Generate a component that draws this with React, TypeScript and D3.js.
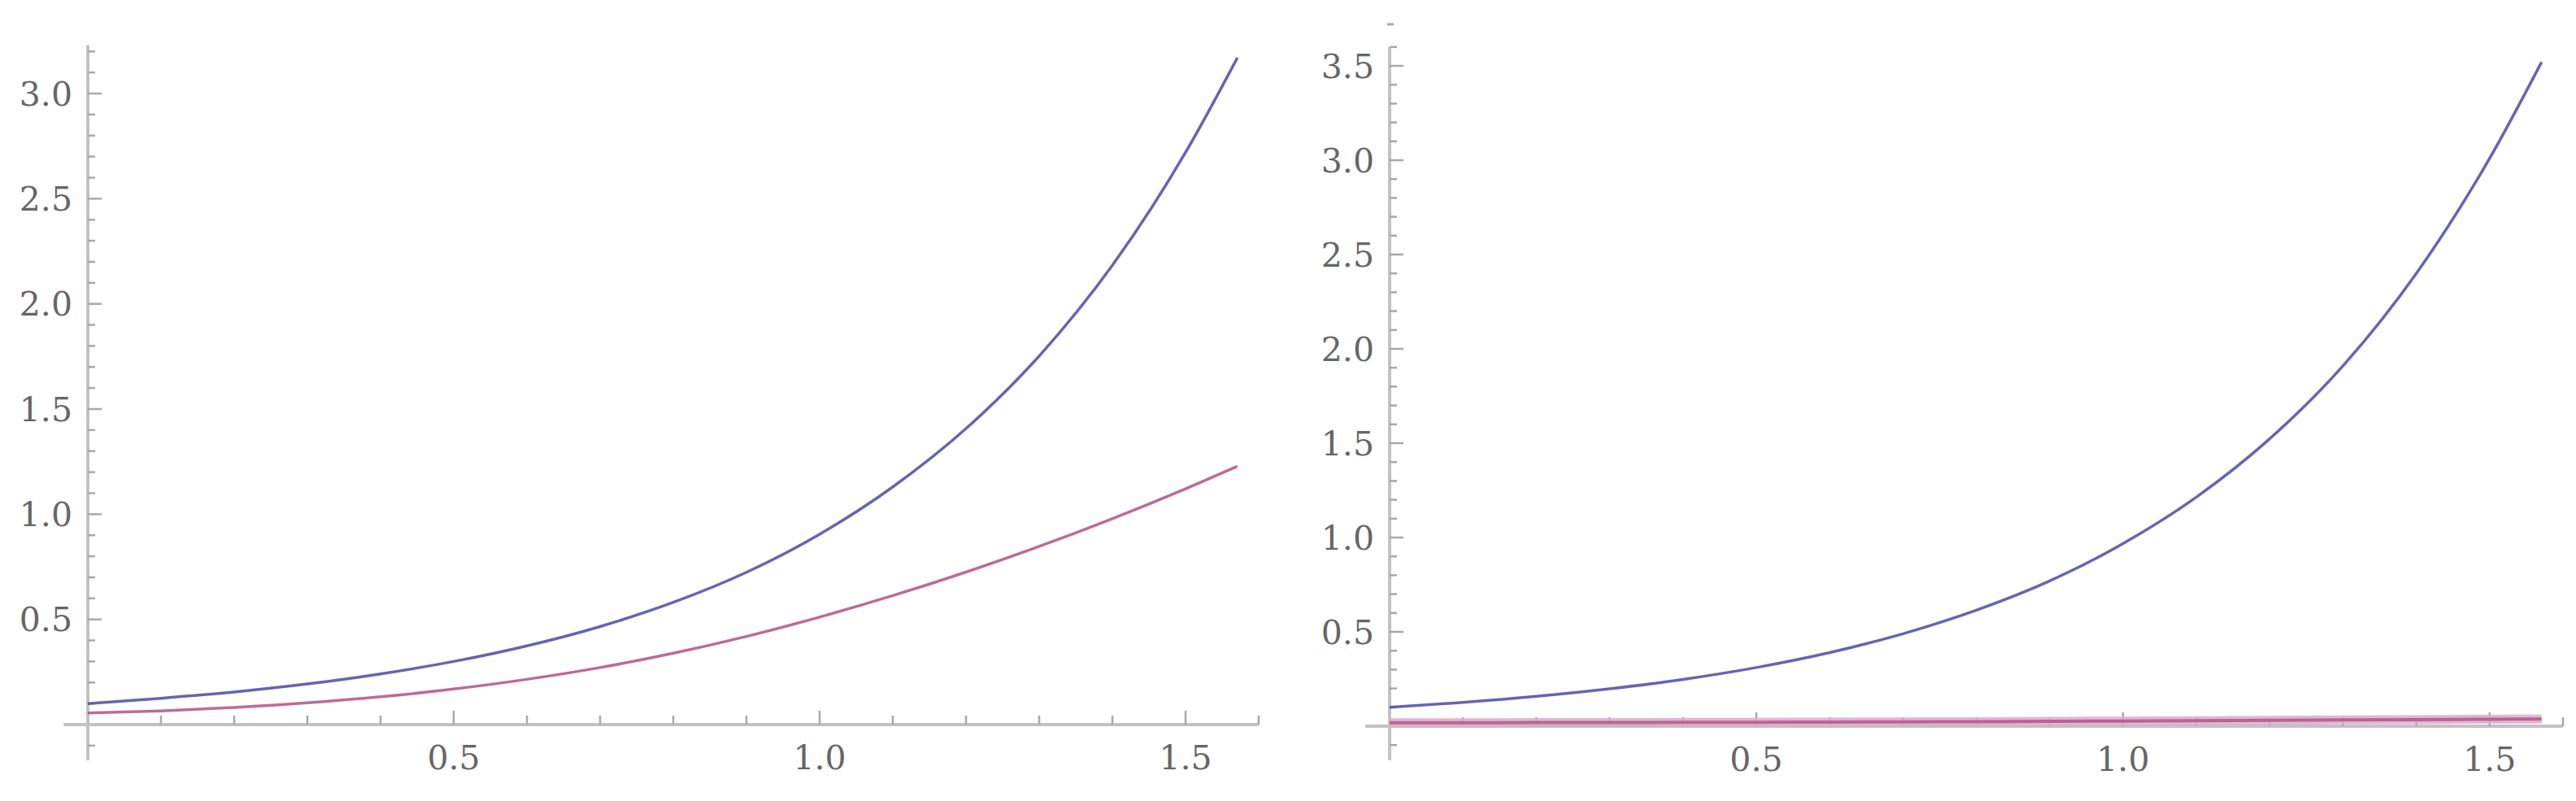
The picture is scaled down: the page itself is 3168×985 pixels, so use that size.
import * as d3 from "d3";

// sample positions along x (0 .. pi/2)
const xValues = [0, 0.1, 0.2, 0.3, 0.4, 0.5, 0.6, 0.7, 0.8, 0.9, 1.0, 1.1, 1.2, 1.3, 1.4, 1.5, 1.5708];

// left panel
const leftBlue = [0.1, 0.125, 0.155, 0.193, 0.241, 0.3, 0.374, 0.466, 0.581, 0.724, 0.905, 1.13, 1.407, 1.752, 2.183, 2.72, 3.17];
const leftPink = [0.055, 0.065, 0.081, 0.103, 0.132, 0.169, 0.215, 0.271, 0.339, 0.419, 0.511, 0.613, 0.725, 0.847, 0.979, 1.121, 1.228];

// right panel
const rightBlue = [0.1, 0.126, 0.158, 0.198, 0.248, 0.311, 0.39, 0.49, 0.615, 0.77, 0.968, 1.214, 1.523, 1.91, 2.4, 3.01, 3.52];
const rightPink = [0.018, 0.018, 0.019, 0.019, 0.02, 0.021, 0.022, 0.023, 0.024, 0.026, 0.027, 0.029, 0.031, 0.033, 0.035, 0.037, 0.038];

const xTickLabels = ["0.5", "1.0", "1.5"];
const leftYLabels = ["0.5", "1.0", "1.5", "2.0", "2.5", "3.0"];
const rightYLabels = ["0.5", "1.0", "1.5", "2.0", "2.5", "3.0", "3.5"];

const W = 3168;
const H = 985;
const AXIS = "#c2c2c2";
const TICK = "#a8a8a8";
const LABEL = "#666666";
const BLUE = "#5454aa";
const PINK = "#b45c8a";
const FONT = "'DejaVu Serif', serif";

type PanelProps = {
  x0: number;
  x1: number;
  yZero: number;
  yTop: number;
  yMaxVal: number;
  yLabels: string[];
  axisTopVal: number;
  axisBottomVal: number;
  blue: number[];
  pink: number[];
  thickPink?: boolean;
  strayTick?: number;
};

function Panel(p: PanelProps) {
  const x = d3.scaleLinear().domain([0, 1.6]).range([p.x0, p.x1]);
  const y = d3.scaleLinear().domain([0, p.yMaxVal]).range([p.yZero, p.yTop]);

  const line = d3.line<number>()
    .x((_, i) => x(xValues[i]))
    .y(d => y(d))
    .curve(d3.curveMonotoneX);

  const xMinor = d3.range(1, 17).map(i => i / 10);
  const yMinor = d3.range(Math.ceil(p.axisBottomVal * 10), Math.floor(p.axisTopVal * 10) + 1)
    .map(i => i / 10)
    .filter(v => Math.abs(v) > 1e-9);

  return (
    <g>
      {/* x axis */}
      <line x1={x(-0.033)} x2={x(1.6)} y1={y(0)} y2={y(0)} stroke={AXIS} strokeWidth={4} />
      {xMinor.map(v => {
        const major = Math.abs(v * 2 - Math.round(v * 2)) < 1e-9;
        return (
          <line key={"xt" + v} x1={x(v)} x2={x(v)} y1={y(0)} y2={y(0) - (major ? 17 : 11)}
            stroke={TICK} strokeWidth={2.5} />
        );
      })}
      {xTickLabels.map(t => (
        <text key={"xl" + t} x={x(+t)} y={y(0) + 55} textAnchor="middle"
          fontFamily={FONT} fontSize={41} fill={LABEL}>{t}</text>
      ))}

      {/* y axis */}
      <line x1={x(0)} x2={x(0)} y1={y(p.axisBottomVal)} y2={y(p.axisTopVal)} stroke={AXIS} strokeWidth={4} />
      {yMinor.map(v => {
        const major = Math.abs(v * 2 - Math.round(v * 2)) < 1e-9;
        return (
          <line key={"yt" + v} x1={x(0)} x2={x(0) + (major ? 17 : 9)} y1={y(v)} y2={y(v)}
            stroke={TICK} strokeWidth={2.5} />
        );
      })}
      {p.strayTick !== undefined && (
        <line x1={x(0) - 3} x2={x(0) + 5} y1={y(p.strayTick)} y2={y(p.strayTick)} stroke={TICK} strokeWidth={3} />
      )}
      {p.yLabels.map(t => (
        <text key={"yl" + t} x={x(0) - 19} y={y(+t)} dy="0.36em" textAnchor="end"
          fontFamily={FONT} fontSize={41} fill={LABEL}>{t}</text>
      ))}

      {/* curves */}
      {p.thickPink && (
        <path d={line(p.pink) || ""} fill="none" stroke="#dcaacb" strokeWidth={11} strokeOpacity={0.85} />
      )}
      <path d={line(p.pink) || ""} fill="none" stroke={PINK} strokeWidth={p.thickPink ? 4 : 3.5} strokeOpacity={0.9} />
      <path d={line(p.blue) || ""} fill="none" stroke={BLUE} strokeWidth={3.5} strokeOpacity={0.9} />
    </g>
  );
}

export default function App() {
  return (
    <svg width={W} height={H} style={{ position: "absolute", left: 0, top: 0, background: "#fff" }}>
      <rect width={W} height={H} fill="#fff" />
      <Panel x0={108} x1={1548} yZero={891} yTop={115} yMaxVal={3}
        yLabels={leftYLabels} axisTopVal={3.23} axisBottomVal={-0.17}
        blue={leftBlue} pink={leftPink} />
      <Panel x0={1709} x1={3152} yZero={893} yTop={81} yMaxVal={3.5}
        yLabels={rightYLabels} axisTopVal={3.6} axisBottomVal={-0.18}
        blue={rightBlue} pink={rightPink} thickPink strayTick={3.72} />
    </svg>
  );
}
